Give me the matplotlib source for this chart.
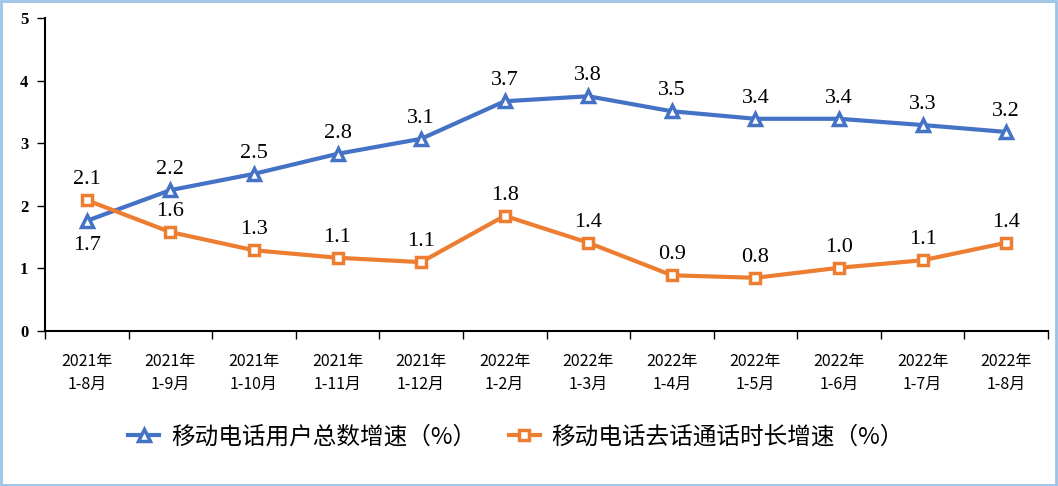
import matplotlib.pyplot as plt
from matplotlib.lines import Line2D

categories = ['2021年\n1-8月', '2021年\n1-9月', '2021年\n1-10月', '2021年\n1-11月', '2021年\n1-12月',
              '2022年\n1-2月', '2022年\n1-3月', '2022年\n1-4月', '2022年\n1-5月', '2022年\n1-6月',
              '2022年\n1-7月', '2022年\n1-8月']
users = [1.76, 2.25, 2.51, 2.83, 3.07, 3.67, 3.75, 3.51, 3.39, 3.39, 3.29, 3.18]
users_labels = ['1.7', '2.2', '2.5', '2.8', '3.1', '3.7', '3.8', '3.5', '3.4', '3.4', '3.3', '3.2']
calls = [2.09, 1.58, 1.29, 1.17, 1.10, 1.84, 1.41, 0.89, 0.85, 1.01, 1.13, 1.41]
calls_labels = ['2.1', '1.6', '1.3', '1.1', '1.1', '1.8', '1.4', '0.9', '0.8', '1.0', '1.1', '1.4']

cjk = ['Noto Sans CJK SC', 'DejaVu Sans']
serif = 'Liberation Serif'
blue = '#4472C4'
orange = '#ED7D31'

fig = plt.figure(figsize=(10.58, 4.86), dpi=100)
ax = fig.add_axes([45/1058, 155/486, 1003/1058, 313/486])

x = list(range(len(categories)))
ax.plot(x, users, color=blue, lw=3, marker='^', ms=9, mfc='white', mec=blue, mew=2.5, zorder=3)
ax.plot(x, calls, color=orange, lw=3, marker='s', ms=7.5, mfc='white', mec=orange, mew=2.5, zorder=3)

for i in x:
    if i == 0:
        ax.annotate(users_labels[i], (i, users[i]), xytext=(0, -11), textcoords='offset points',
                    ha='center', va='top', fontsize=16, family=serif)
    else:
        ax.annotate(users_labels[i], (i, users[i]), xytext=(0, 8), textcoords='offset points',
                    ha='center', va='bottom', fontsize=16, family=serif)
    ax.annotate(calls_labels[i], (i, calls[i]), xytext=(0, 8), textcoords='offset points',
                ha='center', va='bottom', fontsize=16, family=serif)

ax.set_xlim(-0.5, len(categories) - 0.5)
ax.set_ylim(0, 5)
ax.set_yticks([0, 1, 2, 3, 4, 5])
ax.set_yticklabels(['0', '1', '2', '3', '4', '5'], family=serif, fontweight='bold', fontsize=12)
ax.set_xticks([i - 0.5 for i in range(len(categories) + 1)])
ax.set_xticklabels([])
ax.set_xticks(x, minor=True)
ax.set_xticklabels(categories, minor=True, family=cjk, fontsize=11.5, linespacing=1.4)
ax.tick_params(axis='x', which='minor', length=0, pad=16)
ax.tick_params(axis='x', which='major', length=6, direction='out', width=1)
ax.tick_params(axis='y', length=6, direction='out', width=1, pad=6)
for s in ['top', 'right']:
    ax.spines[s].set_visible(False)
ax.spines['left'].set_linewidth(1.5)
ax.spines['bottom'].set_linewidth(1.5)

handles = [Line2D([], [], color=blue, lw=3, marker='^', ms=9, mfc='white', mec=blue, mew=2.5),
           Line2D([], [], color=orange, lw=3, marker='s', ms=7.5, mfc='white', mec=orange, mew=2.5)]
fig.legend(handles, ['移动电话用户总数增速（%）', '移动电话去话通话时长增速（%）'],
           loc='center', bbox_to_anchor=(516/1058, 1 - 437/486), ncol=2, frameon=False,
           prop={'family': cjk, 'size': 17}, handlelength=1.3, columnspacing=1.4, handletextpad=0.5)

border = plt.Rectangle((0.001, 0.002), 0.997, 0.995, transform=fig.transFigure, fill=False,
                       edgecolor='#9DC3E6', lw=2)
fig.patches.append(border)

fig.savefig('out.png', dpi=100)
